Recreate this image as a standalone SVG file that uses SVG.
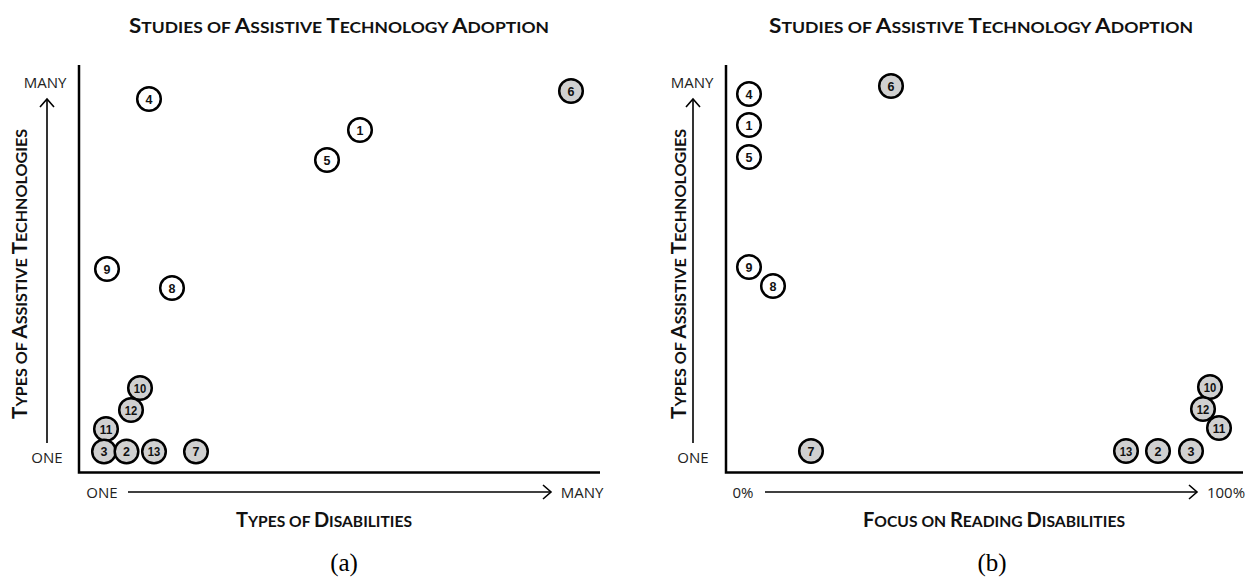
<svg xmlns="http://www.w3.org/2000/svg" width="1251" height="584" viewBox="0 0 1251 584">
<style>
.title{font-family:Lato,"Open Sans","Liberation Sans",sans-serif;font-weight:bold;font-size:16px;fill:#111}
.big{font-size:20.5px}
.lab{font-family:"Open Sans","Liberation Sans",sans-serif;font-size:15px;fill:#222}
.axis{stroke:#000;stroke-width:2.5;fill:none}
.arr{stroke:#000;stroke-width:1.6;fill:none}
.n circle{stroke:#000;stroke-width:2.5}
.w circle{fill:#fff}
.g circle{fill:#d0d0d0}
.n text{font-family:"Liberation Sans",Arial,sans-serif;font-weight:bold;font-size:12.5px;text-anchor:middle;fill:#111}
.cap{font-family:"Liberation Serif","Times New Roman",serif;font-size:25px;text-anchor:middle;fill:#000}
</style>
<defs>
<marker id="ah" markerWidth="12" markerHeight="16" refX="9" refY="8" orient="auto" markerUnits="userSpaceOnUse">
<polyline points="1,1 9,8 1,15" fill="none" stroke="#000" stroke-width="1.6"/>
</marker>
</defs>

<!-- Panel (a) -->
<g id="panel-a">
<text class="title" x="339" y="33" text-anchor="middle" textLength="420" lengthAdjust="spacingAndGlyphs"><tspan class="big">S</tspan>TUDIES OF <tspan class="big">A</tspan>SSISTIVE <tspan class="big">T</tspan>ECHNOLOGY <tspan class="big">A</tspan>DOPTION</text>
<text class="title" transform="translate(27,274) rotate(-90)" text-anchor="middle" textLength="290" lengthAdjust="spacingAndGlyphs"><tspan class="big">T</tspan>YPES OF <tspan class="big">A</tspan>SSISTIVE <tspan class="big">T</tspan>ECHNOLOGIES</text>
<text class="title" x="324" y="527" text-anchor="middle" textLength="176" lengthAdjust="spacingAndGlyphs"><tspan class="big">T</tspan>YPES OF <tspan class="big">D</tspan>ISABILITIES</text>
<text class="lab" x="45" y="87.5" text-anchor="middle">MANY</text>
<text class="lab" x="47" y="462.5" text-anchor="middle">ONE</text>
<text class="lab" x="102" y="497.5" text-anchor="middle">ONE</text>
<text class="lab" x="582" y="497.5" text-anchor="middle">MANY</text>
<text class="cap" x="344" y="571">(a)</text>
</g>

<!-- Panel (b) -->
<g id="panel-b">
<text class="title" x="981" y="33" text-anchor="middle" textLength="424" lengthAdjust="spacingAndGlyphs"><tspan class="big">S</tspan>TUDIES OF <tspan class="big">A</tspan>SSISTIVE <tspan class="big">T</tspan>ECHNOLOGY <tspan class="big">A</tspan>DOPTION</text>
<text class="title" transform="translate(686,274) rotate(-90)" text-anchor="middle" textLength="290" lengthAdjust="spacingAndGlyphs"><tspan class="big">T</tspan>YPES OF <tspan class="big">A</tspan>SSISTIVE <tspan class="big">T</tspan>ECHNOLOGIES</text>
<text class="title" x="994" y="527" text-anchor="middle" textLength="262" lengthAdjust="spacingAndGlyphs"><tspan class="big">F</tspan>OCUS ON <tspan class="big">R</tspan>EADING <tspan class="big">D</tspan>ISABILITIES</text>
<text class="lab" x="692" y="87.5" text-anchor="middle">MANY</text>
<text class="lab" x="693" y="462.5" text-anchor="middle">ONE</text>
<text class="lab" x="743" y="497.5" text-anchor="middle">0%</text>
<text class="lab" x="1226" y="497.5" text-anchor="middle">100%</text>
<text class="cap" x="992" y="571">(b)</text>
</g>

<g id="connectors">
<path class="axis" d="M79,65 V472.5 H600"/>
<path class="axis" d="M726,65 V472.5 H1243"/>
<line class="arr" x1="47" y1="443" x2="47" y2="99" marker-end="url(#ah)"/>
<line class="arr" x1="128" y1="492" x2="551" y2="492" marker-end="url(#ah)"/>
<line class="arr" x1="693" y1="443" x2="693" y2="99" marker-end="url(#ah)"/>
<line class="arr" x1="765" y1="492" x2="1197" y2="492" marker-end="url(#ah)"/>
</g>

<!-- Nodes panel (a) -->
<g id="a4" class="n w"><circle cx="149" cy="99" r="11.8"/><text x="149" y="103.5">4</text></g>
<g id="a6" class="n g"><circle cx="571" cy="91" r="11.8"/><text x="571" y="95.5">6</text></g>
<g id="a1" class="n w"><circle cx="360" cy="130" r="11.8"/><text x="360" y="134.5">1</text></g>
<g id="a5" class="n w"><circle cx="327" cy="160" r="11.8"/><text x="327" y="164.5">5</text></g>
<g id="a9" class="n w"><circle cx="107" cy="269" r="11.8"/><text x="107" y="273.5">9</text></g>
<g id="a8" class="n w"><circle cx="172" cy="288" r="11.8"/><text x="172" y="292.5">8</text></g>
<g id="a10" class="n g"><circle cx="140" cy="388" r="11.8"/><text x="140" y="392.5" textLength="12.5" lengthAdjust="spacingAndGlyphs">10</text></g>
<g id="a12" class="n g"><circle cx="131" cy="410" r="11.8"/><text x="131" y="414.5" textLength="12.5" lengthAdjust="spacingAndGlyphs">12</text></g>
<g id="a11" class="n g"><circle cx="106" cy="429" r="11.8"/><text x="106" y="433.5" textLength="12.5" lengthAdjust="spacingAndGlyphs">11</text></g>
<g id="a3" class="n g"><circle cx="104" cy="451.5" r="11.8"/><text x="104" y="456">3</text></g>
<g id="a2" class="n g"><circle cx="126.5" cy="451.5" r="11.8"/><text x="126.5" y="456">2</text></g>
<g id="a13" class="n g"><circle cx="154" cy="451.5" r="11.8"/><text x="154" y="456" textLength="12.5" lengthAdjust="spacingAndGlyphs">13</text></g>
<g id="a7" class="n g"><circle cx="196" cy="451.5" r="11.8"/><text x="196" y="456">7</text></g>

<!-- Nodes panel (b) -->
<g id="b4" class="n w"><circle cx="749" cy="94" r="11.8"/><text x="749" y="98.5">4</text></g>
<g id="b1" class="n w"><circle cx="749" cy="125" r="11.8"/><text x="749" y="129.5">1</text></g>
<g id="b5" class="n w"><circle cx="749" cy="157" r="11.8"/><text x="749" y="161.5">5</text></g>
<g id="b6" class="n g"><circle cx="891" cy="86" r="11.8"/><text x="891" y="90.5">6</text></g>
<g id="b9" class="n w"><circle cx="749" cy="267" r="11.8"/><text x="749" y="271.5">9</text></g>
<g id="b8" class="n w"><circle cx="773" cy="286" r="11.8"/><text x="773" y="290.5">8</text></g>
<g id="b7" class="n g"><circle cx="811" cy="451" r="11.8"/><text x="811" y="455.5">7</text></g>
<g id="b13" class="n g"><circle cx="1126" cy="451" r="11.8"/><text x="1126" y="455.5" textLength="12.5" lengthAdjust="spacingAndGlyphs">13</text></g>
<g id="b2" class="n g"><circle cx="1158" cy="451" r="11.8"/><text x="1158" y="455.5">2</text></g>
<g id="b3" class="n g"><circle cx="1191" cy="451" r="11.8"/><text x="1191" y="455.5">3</text></g>
<g id="b10" class="n g"><circle cx="1210" cy="387" r="11.8"/><text x="1210" y="391.5" textLength="12.5" lengthAdjust="spacingAndGlyphs">10</text></g>
<g id="b12" class="n g"><circle cx="1203" cy="409" r="11.8"/><text x="1203" y="413.5" textLength="12.5" lengthAdjust="spacingAndGlyphs">12</text></g>
<g id="b11" class="n g"><circle cx="1219" cy="428" r="11.8"/><text x="1219" y="432.5" textLength="12.5" lengthAdjust="spacingAndGlyphs">11</text></g>
</svg>
